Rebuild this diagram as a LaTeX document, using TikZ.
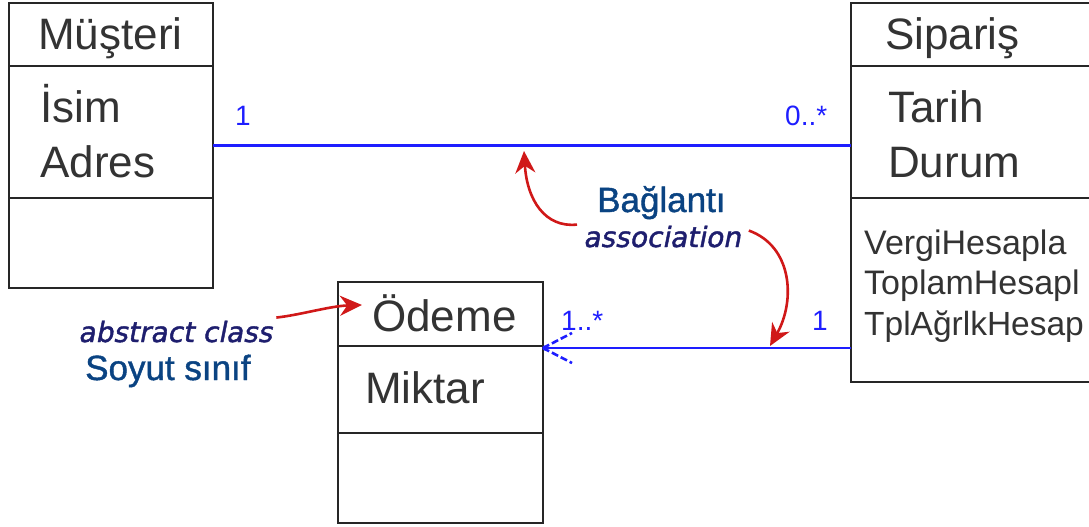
\documentclass[tikz,border=0pt]{standalone}
\usepackage{fontspec}
\setmainfont{Liberation Sans}
\newfontfamily\notefont[FakeSlant=0.2,FakeBold=1.5]{DejaVu Sans}
\newfontfamily\trfont[FakeBold=1.2]{Liberation Sans}
\usetikzlibrary{arrows.meta}
\definecolor{txt}{HTML}{333333}
\definecolor{assoc}{HTML}{1E1EFF}
\definecolor{redarrow}{HTML}{D01818}
\definecolor{navy}{HTML}{1E1E6E}
\definecolor{trblue}{HTML}{0A4382}
\begin{document}
\begin{tikzpicture}[x=1pt,y=-1pt,
  umlbox/.style={draw=black!85, line width=2.8pt, fill=white, inner sep=0pt, outer sep=0pt},
  divider/.style={draw=black!85, line width=2.8pt},
  clsname/.style={anchor=base west, inner sep=0pt, text=txt, font=\fontsize{44}{52}\selectfont},
  attr/.style={anchor=base west, inner sep=0pt, text=txt, font=\fontsize{44}{52}\selectfont},
  meth/.style={anchor=base west, inner sep=0pt, text=txt, font=\fontsize{34}{41}\selectfont},
  assocline/.style={draw=assoc, line width=2.5pt},
  mult/.style={anchor=base west, inner sep=0pt, text=assoc, font=\fontsize{28}{32}\selectfont},
  redarr/.style={draw=redarrow, line width=2.6pt, -{Stealth[length=22pt,width=20pt]}},
  trtext/.style={anchor=base west, inner sep=0pt, text=trblue, font=\trfont\fontsize{35}{40}\selectfont},
  entext/.style={anchor=base west, inner sep=0pt, text=navy, font=\notefont\fontsize{28}{32}\selectfont}
]
\useasboundingbox (0,0) rectangle (1089,527);

% Classes
\node[umlbox, minimum width=204pt, minimum height=285pt] (musteri) at (111,145.5) {};
\draw[divider] (musteri.west |- 0,66) -- (musteri.east |- 0,66);
\draw[divider] (musteri.west |- 0,198) -- (musteri.east |- 0,198);

\node[umlbox, minimum width=260pt, minimum height=379pt] (siparis) at (981,192.5) {};
\draw[divider] (siparis.west |- 0,66) -- (siparis.east |- 0,66);
\draw[divider] (siparis.west |- 0,198) -- (siparis.east |- 0,198);

\node[umlbox, minimum width=205pt, minimum height=241pt] (odeme) at (440.5,402.5) {};
\draw[divider] (odeme.west |- 0,346) -- (odeme.east |- 0,346);
\draw[divider] (odeme.west |- 0,433) -- (odeme.east |- 0,433);

% Texts in classes
\node[clsname] (mname) at (38,49) {Müşteri};
\node[attr] (misim) at (40,122) {İsim};
\node[attr] (madres) at (40,177) {Adres};

\node[clsname] (sname) at (885,50) {Sipariş};
\node[attr] (starih) at (888,122) {Tarih};
\node[attr] (sdurum) at (888,177) {Durum};
\node[meth] (sm1) at (864,254) {VergiHesapla};
\node[meth] (sm2) at (864,294) {ToplamHesapl};
\node[meth, font=\fontsize{33.5}{41}\selectfont] (sm3) at (864,335) {TplAğrlkHesap};

\node[clsname] (oname) at (372,331) {Ödeme};
\node[attr] (omiktar) at (365,403) {Miktar};

% Associations
\coordinate (l2) at (0,348);
\draw[assocline] (musteri.east) -- (siparis.west |- musteri.east);
\draw[assocline] (siparis.west |- l2) -- (odeme.east |- l2) coordinate (tip);
\draw[draw=assoc, line width=2.6pt, dash pattern=on 7pt off 3pt]
  (tip) -- ++(29,-15) (tip) -- ++(29,15);
\fill[assoc] (tip) ++(2,0) circle (2.6pt);

\node[mult] (m1) at (235,125) {1};
\node[mult] (m2) at (785,125) {0..*};
\node[mult] (m3) at (561,330) {1..*};
\node[mult] (m4) at (812,330) {1};

% Annotations
\node[trtext] (bag) at (597,212) {Bağlantı};
\node[entext] (assocen) at (583,247) {association};
\node[entext] (abs) at (78,342) {abstract class};
\node[trtext] (soyut) at (85,380) {Soyut sınıf};

\coordinate (a1) at (524,151);
\coordinate (a2) at (770,346);
\coordinate (a3) at (362,305);
\draw[redarr] (assocen.west) ++(-6,-12) .. controls (545,228) and (527,200) .. (a1);
\draw[redarr] (assocen.east) ++(8,-6) .. controls (792,246) and (796,300) .. (a2);
\draw[redarr] (abs.east) ++(4,-14) .. controls (300,315) and (330,306) .. (a3);
\end{tikzpicture}
\end{document}
